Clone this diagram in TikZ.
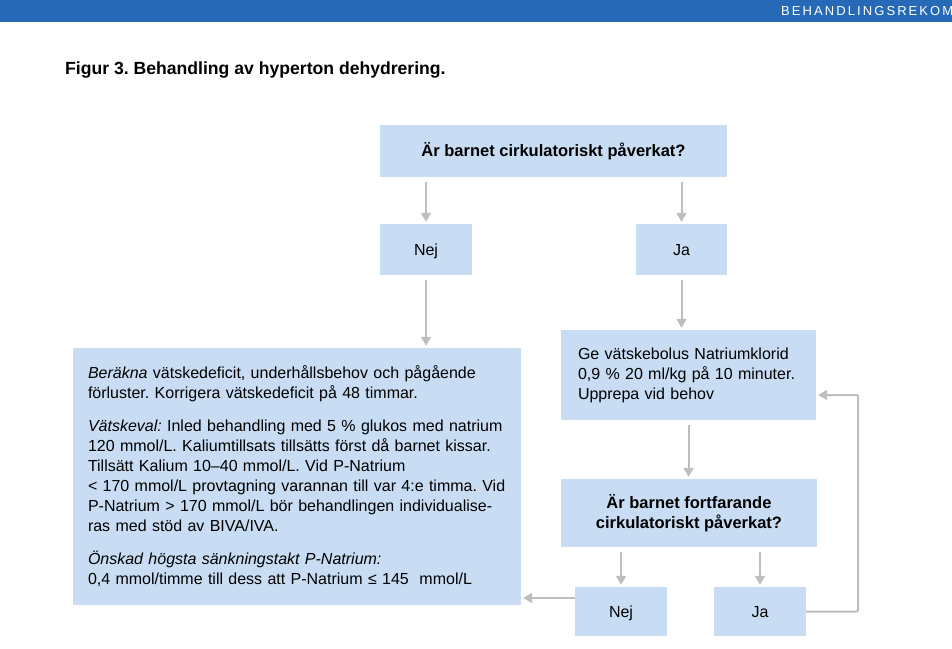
\documentclass[tikz,border=0pt]{standalone}
\usepackage{fontspec}
\setmainfont{Liberation Sans}
\usepackage{xcolor}
\definecolor{barblue}{RGB}{38,106,183}
\definecolor{boxblue}{RGB}{200,221,243}
\definecolor{arrowgray}{RGB}{190,190,190}
\usetikzlibrary{positioning,arrows.meta,calc}
\frenchspacing

\begin{document}
\begin{tikzpicture}[
  x=1pt, y=-1pt,
  font=\fontsize{16}{20}\selectfont,
  box/.style={
    rectangle, fill=boxblue, inner sep=0pt, align=center
  },
  answer/.style={box, minimum width=92pt, text height=11.5pt, text depth=0pt},
  question/.style={box, font=\fontsize{16.5}{20}\selectfont\bfseries},
  textbox/.style={box, align=left, inner xsep=15pt},
  arrow/.style={-{Triangle[length=9pt,width=10pt]}, line width=2pt,
    arrowgray, shorten <=5pt, shorten >=2pt}
]
\useasboundingbox (0,0) rectangle (952,648);

% header bar
\fill[barblue] (0,0) rectangle (952,22);
\begin{scope}
  \clip (0,0) rectangle (952,22);
  \node[anchor=base west, inner sep=0pt, text=white,
    font=\fontsize{13}{14}\selectfont\addfontfeature{LetterSpace=16}]
    (header) at (781,15) {BEHANDLINGSREKOM};
\end{scope}

% title
\node[anchor=base west, inner sep=0pt, font=\fontsize{17.6}{20}\selectfont\bfseries]
  (title) at (65,74) {Figur 3. Behandling av hyperton dehydrering.};

% boxes
\node[question, minimum width=347pt, minimum height=52pt] (q1) at (553.5,151)
  {Är barnet cirkulatoriskt påverkat?};
\node[answer, minimum height=51pt] (nej1) at (426,249.5) {Nej};
\node[answer, minimum width=91pt, minimum height=51pt] (ja1) at (681.5,249.5) {Ja};

\node[textbox, text width=418pt, minimum height=257pt] (treat) at (297,476.5)
  {\textit{Beräkna} vätskedeficit, underhållsbehov och pågående\\
   förluster. Korrigera vätskedeficit på 48 timmar.\\[13pt]
   \textit{Vätskeval:} Inled behandling med 5 \% glukos med natrium\\
   120 mmol/L. Kaliumtillsats tillsätts först då barnet kissar.\\
   Tillsätt Kalium 10–40 mmol/L. Vid P-Natrium\\
   < 170 mmol/L provtagning varannan till var 4:e timma. Vid\\
   P-Natrium > 170 mmol/L bör behandlingen individualise-\\
   ras med stöd av BIVA/IVA.\\[13pt]
   \textit{Önskad högsta sänkningstakt P-Natrium:}\\
   0,4 mmol/timme till dess att P-Natrium ≤ 145\ \ mmol/L};

\node[textbox, inner xsep=17pt, text width=221pt, minimum height=90pt] (bolus) at (688.5,375)
  {Ge vätskebolus Natriumklorid\\
   0,9 \% 20 ml/kg på 10 minuter.\\
   Upprepa vid behov};

\node[question, minimum width=256pt, minimum height=68pt] (q2) at (689,513)
  {Är barnet fortfarande\\ cirkulatoriskt påverkat?};
\node[answer, minimum height=49pt] (nej2) at (621,611.5) {Nej};
\node[answer, minimum height=49pt] (ja2) at (760,611.5) {Ja};

% connectors
\draw[arrow] (nej1.north |- q1.south) -- (nej1.north);
\draw[arrow] (ja1.north |- q1.south) -- (ja1.north);
\draw[arrow] (nej1.south) -- (nej1.south |- treat.north);
\draw[arrow] (ja1.south) -- (ja1.south |- bolus.north);
\draw[arrow] (bolus.south) -- (bolus.south |- q2.north);
\draw[arrow] (nej2.north |- q2.south) -- (nej2.north);
\draw[arrow] (ja2.north |- q2.south) -- (ja2.north);
\draw[arrow, shorten <=0pt] ([yshift=13.5pt]nej2.west) -- ([yshift=13.5pt]nej2.west -| treat.east);

% loop back to bolus
\coordinate (loop) at (858,395);
\draw[arrow, shorten <=0pt, rounded corners=1pt] (ja2.east) -| (loop) -- (loop -| bolus.east);
\end{tikzpicture}
\end{document}
